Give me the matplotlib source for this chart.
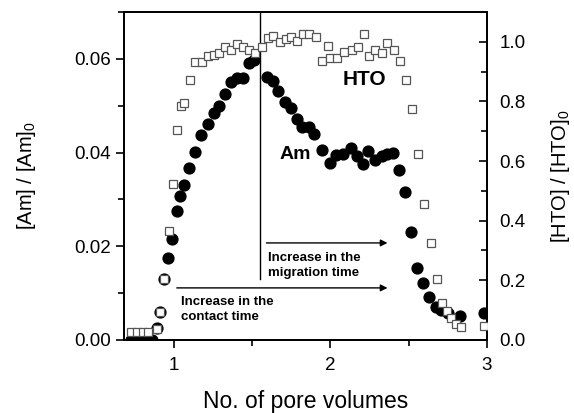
import matplotlib
matplotlib.use("Agg")
import matplotlib.pyplot as plt
from matplotlib.ticker import MultipleLocator

plt.rcParams['font.family'] = ['Liberation Sans', 'DejaVu Sans']
plt.rcParams['mathtext.fontset'] = 'custom'
plt.rcParams['mathtext.rm'] = 'Liberation Sans'
plt.rcParams['mathtext.it'] = 'Liberation Sans'
plt.rcParams['mathtext.bf'] = 'Liberation Sans:bold'

# Am breakthrough (left axis)
am_x = [0.724, 0.762, 0.801, 0.833, 0.86, 0.890, 0.909, 0.934, 0.960, 0.985,
        1.017, 1.036, 1.062, 1.094, 1.132, 1.170, 1.215, 1.253, 1.285, 1.324,
        1.362, 1.400, 1.439, 1.477, 1.509, 1.592, 1.630, 1.668, 1.707, 1.745,
        1.789, 1.821, 1.866, 1.898, 1.949, 2.000, 2.038, 2.083, 2.134, 2.172,
        2.211, 2.243, 2.287, 2.332, 2.364, 2.402, 2.440, 2.479, 2.517, 2.555,
        2.594, 2.632, 2.677, 2.708, 2.75, 2.830, 2.983]
am_y = [0.0, 0.0, 0.0, 0.0, 0.0, 0.0026, 0.0060, 0.0130, 0.0175, 0.0216,
        0.0276, 0.0307, 0.0331, 0.0367, 0.0401, 0.0437, 0.0461, 0.0484, 0.0499, 0.0525,
        0.0550, 0.0559, 0.0559, 0.0591, 0.0598, 0.0561, 0.0553, 0.0531, 0.0508, 0.0495,
        0.0472, 0.0455, 0.0455, 0.0440, 0.0405, 0.0378, 0.0395, 0.0397, 0.0410, 0.0393,
        0.0376, 0.0403, 0.0384, 0.0393, 0.0397, 0.0399, 0.0363, 0.0316, 0.0230, 0.0154,
        0.0122, 0.0092, 0.0070, 0.0064, 0.0058, 0.0051, 0.0058]

# HTO breakthrough (right axis)
hto_x = [0.724, 0.762, 0.801, 0.833, 0.890, 0.909, 0.934, 0.966, 0.992, 1.017,
         1.043, 1.062, 1.100, 1.132, 1.177, 1.215, 1.253, 1.285, 1.324, 1.362,
         1.400, 1.439, 1.477, 1.515, 1.560, 1.598, 1.636, 1.675, 1.713, 1.751,
         1.789, 1.827, 1.866, 1.911, 1.949, 1.987, 2.000, 2.044, 2.089, 2.140,
         2.178, 2.217, 2.249, 2.287, 2.332, 2.364, 2.409, 2.447, 2.485, 2.523,
         2.561, 2.600, 2.644, 2.683, 2.715, 2.747, 2.772, 2.804, 2.836, 2.983]
hto_y = [0.027, 0.027, 0.027, 0.027, 0.037, 0.094, 0.205, 0.366, 0.523, 0.704,
         0.785, 0.795, 0.872, 0.932, 0.932, 0.952, 0.956, 0.962, 0.983, 0.972,
         0.993, 0.983, 0.972, 0.962, 0.983, 1.013, 1.019, 0.999, 1.009, 1.016,
         1.003, 1.026, 1.026, 1.016, 0.936, 0.986, 0.946, 0.946, 0.966, 0.972,
         0.983, 1.026, 0.952, 0.972, 0.962, 0.996, 0.972, 0.936, 0.872, 0.775,
         0.624, 0.456, 0.325, 0.205, 0.124, 0.097, 0.074, 0.054, 0.044, 0.047]

fig = plt.figure(figsize=(5.74, 4.13), dpi=100)
ax = fig.add_axes([0.216, 0.177, 0.632, 0.794])
ax2 = ax.twinx()

ax.plot(am_x, am_y, 'o', color='black', markersize=7.8, zorder=3)
ax2.plot(hto_x, hto_y, 's', markerfacecolor='white', markeredgecolor='#555555',
         markeredgewidth=0.9, markersize=6, zorder=3)

ax.set_xlim(0.68, 3.0)
ax.set_ylim(0, 0.07)
ax2.set_ylim(0, 1.1)

ax.xaxis.set_major_locator(MultipleLocator(1))
ax.xaxis.set_minor_locator(MultipleLocator(0.5))
ax.yaxis.set_major_locator(MultipleLocator(0.02))
ax.yaxis.set_minor_locator(MultipleLocator(0.01))
ax.yaxis.set_major_formatter(plt.FormatStrFormatter('%.2f'))
ax2.yaxis.set_major_locator(MultipleLocator(0.2))
ax2.yaxis.set_minor_locator(MultipleLocator(0.1))
ax2.yaxis.set_major_formatter(plt.FormatStrFormatter('%.1f'))

ax.tick_params(axis='both', which='major', direction='out', length=6, width=1.2, labelsize=13.5)
ax.tick_params(axis='both', which='minor', direction='out', length=4, width=1.2)
ax.tick_params(axis='x', top=False, which='both', pad=6)
ax2.tick_params(axis='y', which='major', direction='in', length=6, width=1.2, labelsize=13.5, pad=9)
ax2.tick_params(axis='y', which='minor', direction='in', length=4, width=1.2)

for a in (ax, ax2):
    for s in a.spines.values():
        s.set_linewidth(1.3)

ax.set_xlabel('No. of pore volumes', fontsize=16.5, labelpad=12)
ax.set_ylabel('[Am] / [Am]$_0$', fontsize=14.5, labelpad=26)
ax2.set_ylabel('[HTO] / [HTO]$_0$', fontsize=14.5, labelpad=17)

# reference line and arrows
ax.plot([1.55, 1.55], [0.013, 0.07], color='black', linewidth=1)
ax.annotate('', xy=(2.383, 0.0207), xytext=(1.573, 0.0207),
            arrowprops=dict(arrowstyle='-|>', color='black', lw=1, mutation_scale=10))
ax.annotate('', xy=(2.383, 0.0111), xytext=(1.0, 0.0111),
            arrowprops=dict(arrowstyle='-|>', color='black', lw=1, mutation_scale=10))
ax.text(1.60, 0.0188, 'Increase in the\nmigration time', fontsize=9.5, fontweight='bold',
        va='top', ha='left', linespacing=1.3)
ax.text(1.045, 0.0093, 'Increase in the\ncontact time', fontsize=9.5, fontweight='bold',
        va='top', ha='left', linespacing=1.3)
ax.text(2.22, 0.0556, 'HTO', fontsize=15, fontweight='bold', ha='center', va='center')
ax.text(1.775, 0.0395, 'Am', fontsize=14, fontweight='bold', ha='center', va='center')

fig.savefig('out.png', dpi=100)
